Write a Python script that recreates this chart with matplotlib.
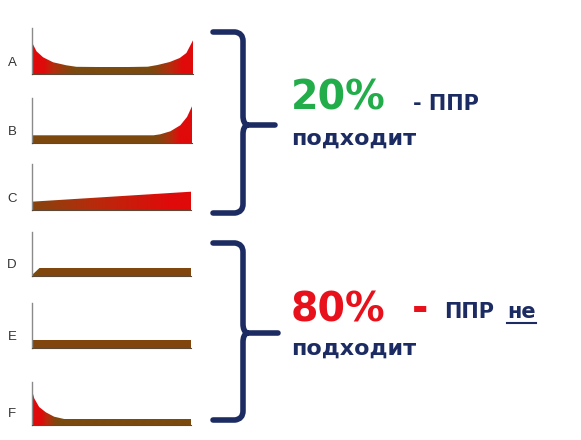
import numpy as np
import matplotlib
matplotlib.use("Agg")
import matplotlib.pyplot as plt
from matplotlib.path import Path
from matplotlib.patches import PathPatch
from matplotlib.colors import LinearSegmentedColormap

# panel labels and curve samples (x as fraction of width, height in px above baseline)
labels = ["A", "B", "C", "D", "E", "F"]
xs_a = [0.0, 0.031, 0.072, 0.134, 0.216, 0.278, 0.4, 0.6, 0.72, 0.78, 0.856, 0.918, 0.959, 1.0]
ys_a = [32.7, 22.7, 16.7, 11.7, 8.7, 7.2, 7.0, 7.0, 7.3, 9.0, 12.0, 16.0, 21.0, 33.7]
xs_b = [0.0, 0.5, 0.76, 0.802, 0.865, 0.927, 0.969, 1.0]
ys_b = [7.7, 7.7, 7.7, 8.7, 11.7, 17.7, 26.0, 36.7]
xs_c = [0.0, 1.0]
ys_c = [8.3, 18.3]
xs_d = [0.0, 0.05, 1.0]
ys_d = [0.5, 8.0, 8.0]
xs_e = [0.0, 1.0]
ys_e = [8.0, 8.0]
xs_f = [0.0, 0.017, 0.048, 0.09, 0.142, 0.205, 1.0]
ys_f = [36.7, 26.7, 18.0, 12.7, 8.3, 6.0, 6.0]
curves = [(xs_a, ys_a), (xs_b, ys_b), (xs_c, ys_c), (xs_d, ys_d), (xs_e, ys_e), (xs_f, ys_f)]

# panel boxes in pixels: left, right, top, bottom
boxes = [(31.5, 193, 28, 74), (31.5, 192, 98, 143), (31.5, 191, 164, 210),
         (31.5, 191, 232, 276), (31.5, 191, 303, 348), (31.5, 191, 382, 425)]

navy = "#1c2b62"
green = "#22ad4a"
red = "#e8101a"
W, H = 581, 440

cmap = LinearSegmentedColormap.from_list("rb", ["#7b4a0e", "#b82a0c", "#e00a0a"])

fig = plt.figure(figsize=(W / 100, H / 100), dpi=100)

for lab, (xs, ys), (l, r, t, b) in zip(labels, curves, boxes):
    ax = fig.add_axes([l / W, 1 - b / H, (r - l) / W, (b - t) / H])
    ax.set_xlim(0, 1)
    ax.set_ylim(0, b - t)
    poly = ax.fill_between(xs, ys, 0, color="none", lw=0)
    # colour each column by its height (red where high, brown where low)
    xx = np.linspace(0, 1, 300)
    hh = np.interp(xx, xs, ys)
    tt = np.clip((hh - 7.5) / 9.5, 0, 1)
    img = ax.imshow(tt[None, :], cmap=cmap, vmin=0, vmax=1, aspect="auto",
                    extent=[0, 1, 0, b - t], interpolation="bilinear")
    path = poly.get_paths()[0]
    img.set_clip_path(path, transform=ax.transData)
    for s in ["top", "right"]:
        ax.spines[s].set_visible(False)
    ax.spines["left"].set_color("#8a8a8a")
    ax.spines["left"].set_linewidth(1.0)
    ax.spines["bottom"].set_color("#5a4a3a")
    ax.spines["bottom"].set_linewidth(0.8)
    ax.set_xticks([])
    ax.set_yticks([])
    ax.patch.set_alpha(0)
    fig.text(12 / W, 1 - (b - 11) / H, lab, fontsize=9.5, family="Liberation Sans",
             color="#333333", ha="center", va="center")

# overlay in pixel coordinates for brackets and text
ov = fig.add_axes([0, 0, 1, 1])
ov.set_xlim(0, W)
ov.set_ylim(H, 0)
ov.axis("off")
ov.patch.set_alpha(0)


def bracket(x0, xv, tip, top, mid, bot):
    verts = [(x0, top), (xv - 8, top), (xv, top + 1), (xv, top + 9),
             (xv, mid - 9), (xv, mid - 2), (xv + 4, mid), (tip, mid),
             (xv + 4, mid), (xv, mid + 2), (xv, mid + 9),
             (xv, bot - 9), (xv, bot - 1), (xv - 8, bot), (x0, bot)]
    codes = [Path.MOVETO, Path.LINETO, Path.CURVE3, Path.CURVE3,
             Path.LINETO, Path.CURVE3, Path.CURVE3, Path.LINETO,
             Path.MOVETO, Path.CURVE3, Path.CURVE3,
             Path.LINETO, Path.CURVE3, Path.CURVE3, Path.LINETO]
    ov.add_patch(PathPatch(Path(verts, codes), fill=False, ec=navy, lw=4.0,
                           capstyle="round", joinstyle="round"))


bracket(213, 243, 275, 32, 125, 213)
bracket(213, 243, 278, 243, 333, 420)

bold = dict(family="DejaVu Sans", weight="bold", va="baseline", ha="left")
ov.text(291, 109, "20%", fontsize=28.5, color=green, **bold)
ov.text(413, 110, "- ППР", fontsize=15, color=navy, **bold)
ov.text(291, 145, "подходит", fontsize=16, color=navy, **bold)
ov.text(291, 321, "80%", fontsize=28.5, color=red, **bold)
ov.text(412, 321, "-", fontsize=28.5, color=red, **bold)
ov.text(444, 318, "ППР", fontsize=15, color=navy, **bold)
ne = ov.text(507, 318, "не", fontsize=15, color=navy, **bold)
ov.text(291, 355, "подходит", fontsize=16, color=navy, **bold)

# underline under "не"
fig.canvas.draw()
bb = ne.get_window_extent().transformed(ov.transData.inverted())
ov.plot([bb.x0, bb.x1], [323, 323], color=navy, lw=1.5)

fig.savefig("out.png", dpi=100)
